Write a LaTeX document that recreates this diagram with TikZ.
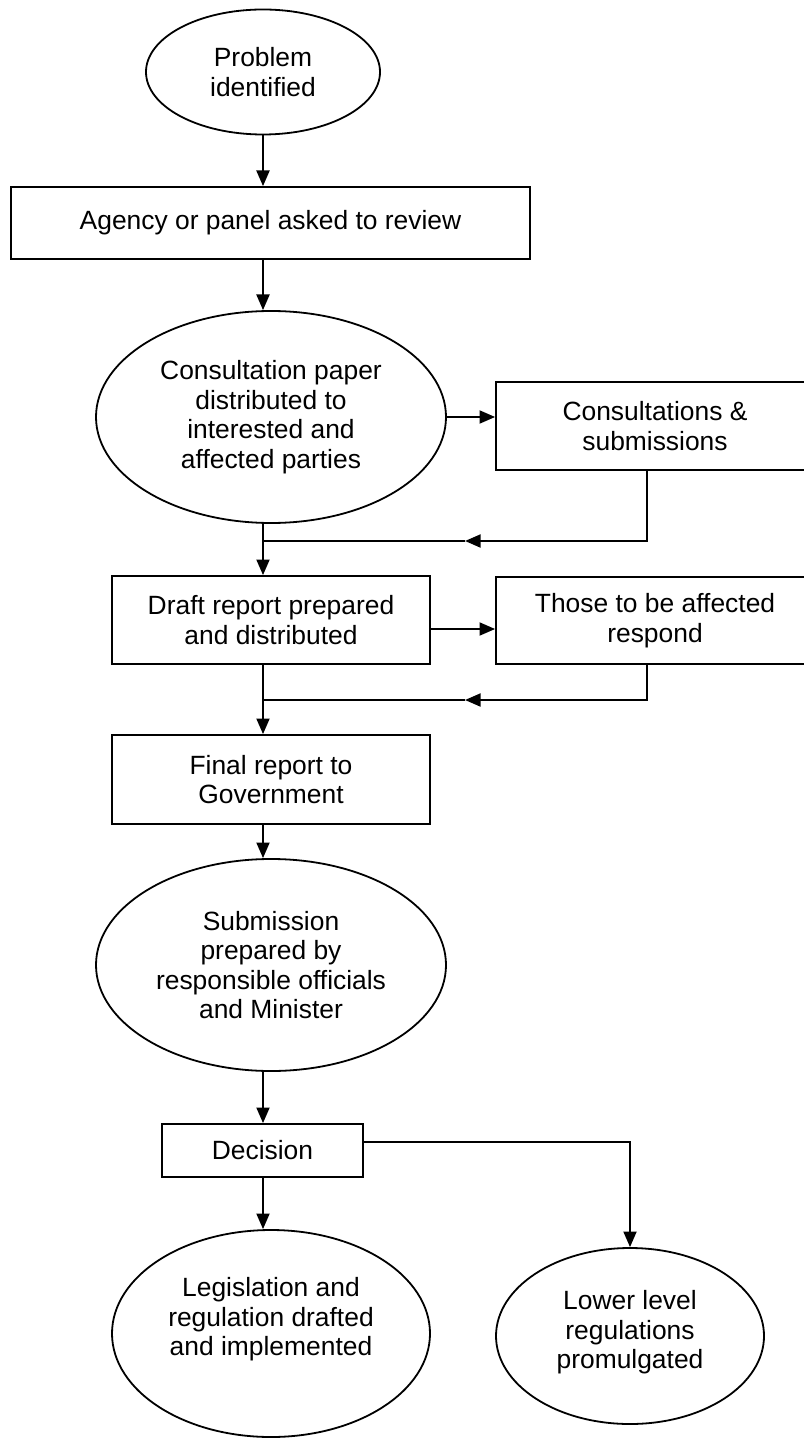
\documentclass[tikz,border=0pt]{standalone}
\usepackage{fontspec}
\setmainfont{Liberation Sans}
\usetikzlibrary{shapes.geometric,arrows.meta}

\begin{document}
\begin{tikzpicture}[x=0.5pt,y=-0.5pt,
    font=\fontsize{13.2}{14.8}\selectfont,
    box/.style={draw,line width=0.9pt,rectangle,inner sep=0pt,align=center},
    oval/.style={draw,line width=0.9pt,ellipse,inner sep=0pt,align=center},
    line/.style={line width=1pt},
    arr/.style={line width=1pt,-{Triangle[width=6.5pt,length=7.8pt]}}]
    \useasboundingbox (0,0) rectangle (803,1438);

    \node[oval,minimum width=117pt,minimum height=62.5pt] (problem) at (263,72) {Problem\\identified};
    \node[box,minimum width=259.5pt,minimum height=36pt] (agency) at (270.5,223) {Agency or panel asked to review};
    \node[oval,minimum width=175pt,minimum height=106pt] (paper) at (271,417) {Consultation paper\\distributed to\\interested and\\affected parties};
    \node[box,minimum width=159pt,minimum height=44pt] (consult) at (655,426) {Consultations \&\\submissions};

    \node[box,minimum width=159pt,minimum height=44pt] (draft) at (271,620) {Draft report prepared\\and distributed};
    \node[box,minimum width=159pt,minimum height=43.5pt] (respond) at (655,620.5) {Those to be affected\\respond};
    \node[box,minimum width=159pt,minimum height=44.5pt] (final) at (271,779.5) {Final report to\\Government};

    \node[oval,minimum width=175pt,minimum height=106pt] (submit) at (271,965) {Submission\\prepared by\\responsible officials\\and Minister};
    \node[box,minimum width=100.5pt,minimum height=26.5pt] (decision) at (262.5,1150.5) {Decision};
    \node[oval,minimum width=159pt,minimum height=103.5pt,text height=39pt,text depth=16.7pt] (legis) at (271,1333.5) {Legislation and\\regulation drafted\\and implemented};
    \node[oval,minimum width=134pt,minimum height=88pt,text height=39.2pt,text depth=6.3pt] (lower) at (630,1336) {Lower level\\regulations\\promulgated};

    \coordinate (ret1) at (465,541);
    \coordinate (join1) at (263,541);
    \coordinate (ret2) at (465,700);
    \coordinate (join2) at (263,700);

    \draw[arr] (problem.south) -- (problem.south |- agency.north);
    \draw[arr] (agency.south -| problem.south) -- (problem.south |- paper.north);
    \draw[arr] (paper.east) -- (paper.east -| consult.west);
    \draw[arr] ([xshift=-4pt]consult.south) |- (ret1);
    \draw[line] (ret1) -- (join1);
    \draw[arr] (paper.south -| problem.south) -- (problem.south |- draft.north);

    \draw[arr] ([yshift=-4.5pt]draft.east) -- ([yshift=-4.5pt]draft.east -| respond.west);
    \draw[arr] ([xshift=-4pt]respond.south) |- (ret2);
    \draw[line] (ret2) -- (join2);
    \draw[arr] (draft.south -| problem.south) -- (problem.south |- final.north);
    \draw[arr] (final.south -| problem.south) -- (problem.south |- submit.north);

    \draw[arr] (submit.south -| problem.south) -- (problem.south |- decision.north);
    \draw[arr] (decision.south -| problem.south) -- (problem.south |- legis.north);
    \draw[arr] ([yshift=4.25pt]decision.east) -| (lower.north);
\end{tikzpicture}
\end{document}
